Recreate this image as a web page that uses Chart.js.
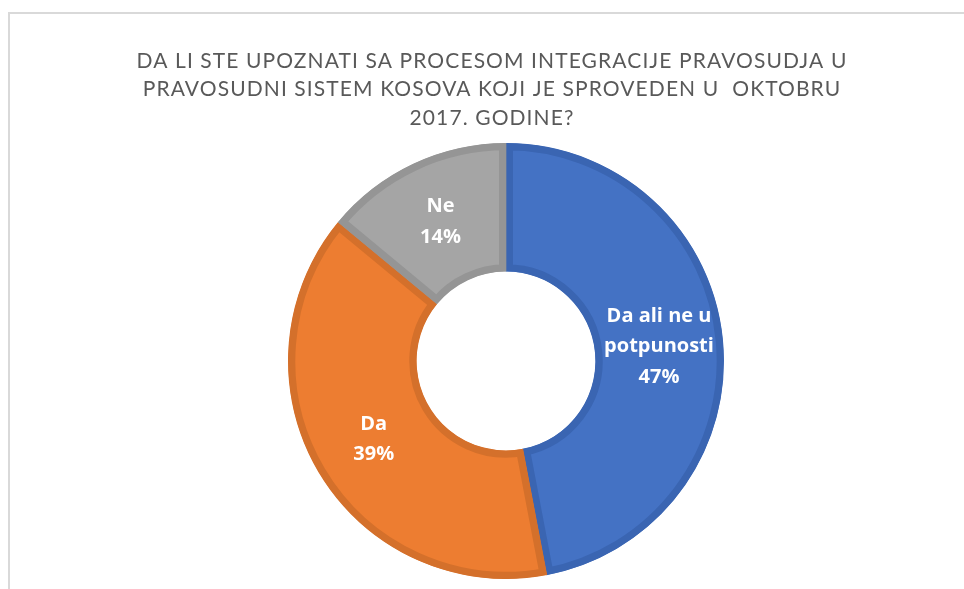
<!DOCTYPE html>
<html>
<head>
<meta charset="utf-8">
<script src="https://cdn.jsdelivr.net/npm/chart.js@4.4.0/dist/chart.umd.min.js"></script>
<style>
  html, body { margin: 0; padding: 0; background: #fff; }
  #wrap { position: relative; width: 964px; height: 589px; overflow: hidden; }
  #frame {
    position: absolute; left: 8px; top: 12px; right: -10px; bottom: -10px;
    border-top: 2px solid #d9d9d9; border-left: 2px solid #d9d9d9;
  }
  #chart { position: absolute; left: 0; top: 0; }
</style>
</head>
<body>
<div id="wrap">
  <div id="frame"></div>
  <canvas id="chart" width="964" height="589"></canvas>
</div>
<script>
// data
const titleLines = [
  "DA LI STE UPOZNATI SA PROCESOM INTEGRACIJE PRAVOSUDJA U",
  "PRAVOSUDNI SISTEM KOSOVA KOJI JE SPROVEDEN U  OKTOBRU",
  "2017. GODINE?"
];
const categories = [["Da ali ne u", "potpunosti"], "Da", "Ne"];
const percents = [47, 39, 14];

// colours
const fillColors = ["#4472C4", "#ED7D31", "#A5A5A5"];
const edgeColors = ["#3A65B2", "#D4702B", "#959595"];

// -------- title drawn like the Excel one (spaced caps, grey) --------
const titlePlugin = {
  id: "excelTitle",
  afterDraw(chart) {
    const ctx = chart.ctx;
    ctx.save();
    ctx.font = "21px Lato";
    ctx.fillStyle = "#595959";
    ctx.textAlign = "center";
    ctx.textBaseline = "middle";
    ctx.letterSpacing = "1.1px";
    titleLines.forEach((line, i) => {
      ctx.fillText(line, 492, 61 + i * 28.5);
    });
    ctx.restore();
  }
};

// -------- slice labels: category + percent in white bold --------
const sliceLabels = {
  id: "sliceLabels",
  afterDatasetsDraw(chart) {
    const ctx = chart.ctx;
    const meta = chart.getDatasetMeta(0);
    ctx.save();
    ctx.font = "bold 20px 'Open Sans'";
    ctx.fillStyle = "#ffffff";
    ctx.textAlign = "center";
    ctx.textBaseline = "middle";
    meta.data.forEach((arc, i) => {
      const pos = arc.tooltipPosition();
      const lines = [].concat(categories[i], percents[i] + "%");
      const lh = 30.5;
      const top = pos.y - ((lines.length - 1) * lh) / 2;
      lines.forEach((t, j) => ctx.fillText(t, pos.x, top + j * lh));
    });
    ctx.restore();
  }
};

function init() {
  new Chart(document.getElementById("chart"), {
    type: "doughnut",
    data: {
      labels: categories,
      datasets: [
        {
          data: percents,
          backgroundColor: fillColors,
          borderColor: edgeColors,
          borderWidth: 7,
          borderAlign: "inner",
          hoverOffset: 0,
        },
      ],
    },
    options: {
      responsive: false,
      animation: false,
      cutout: "41%",
      layout: { padding: { top: 143, bottom: 10, left: 48, right: 0 } },
      plugins: {
        legend: { display: false },
        title: { display: false },
        tooltip: { enabled: false },
      },
    },
    plugins: [titlePlugin, sliceLabels],
  });
}

document.fonts.load("bold 20px 'Open Sans'").then(() => document.fonts.load("21px Lato")).then(init, init);
</script>
</body>
</html>
